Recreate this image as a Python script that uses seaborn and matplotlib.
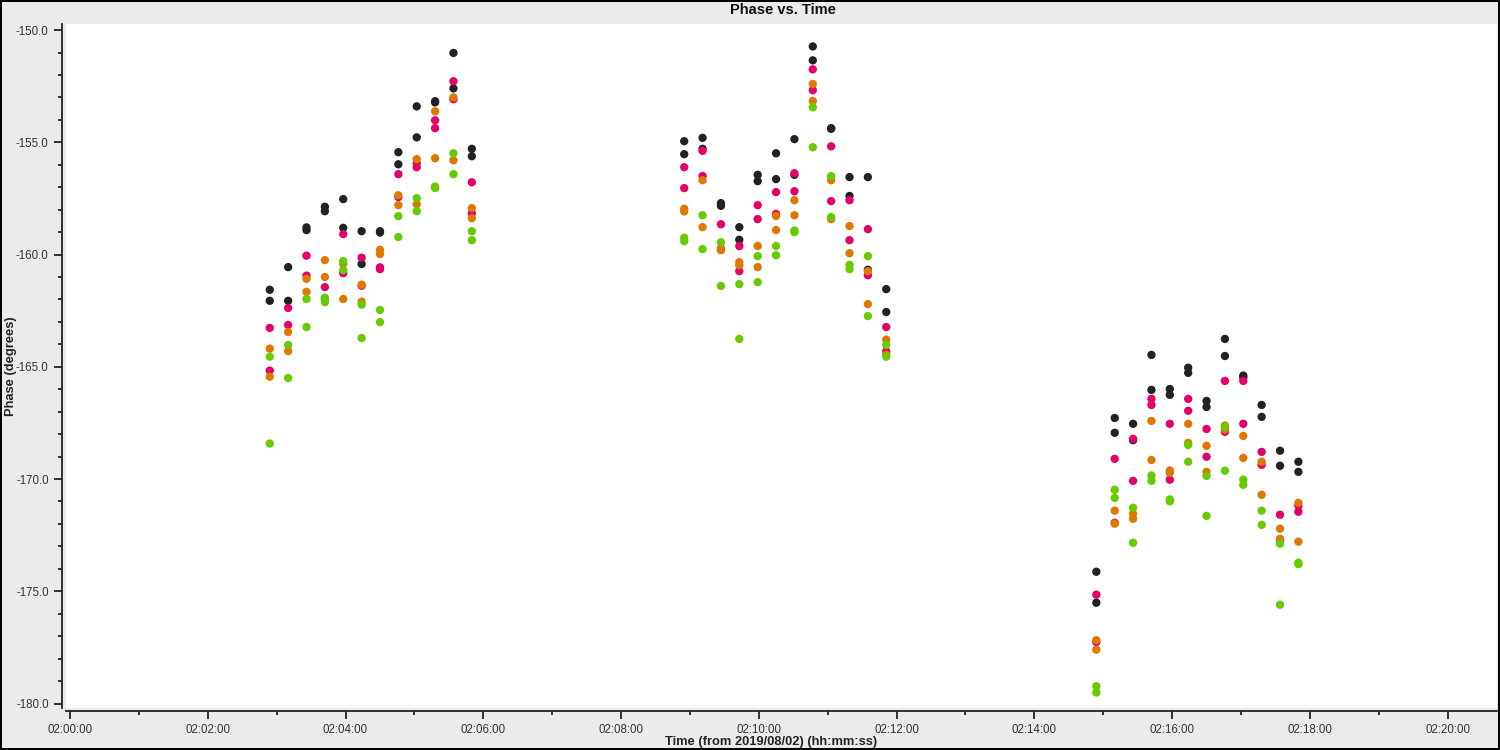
import pandas as pd
import numpy as np
import matplotlib
matplotlib.use('Agg')
import matplotlib.pyplot as plt
from matplotlib.ticker import MultipleLocator, FuncFormatter
import seaborn as sns

# scan times (hh:mm:ss on 2019/08/02)
times = [
    '02:02:54', '02:03:10', '02:03:26', '02:03:42', '02:03:58', '02:04:14',
    '02:04:30', '02:04:46', '02:05:02', '02:05:18', '02:05:34', '02:05:50',
    '02:08:55', '02:09:11', '02:09:27', '02:09:43', '02:09:59', '02:10:15',
    '02:10:31', '02:10:47', '02:11:03', '02:11:19', '02:11:35', '02:11:51',
    '02:14:54', '02:15:10', '02:15:26', '02:15:42', '02:15:58', '02:16:14',
    '02:16:30', '02:16:46', '02:17:02', '02:17:18', '02:17:34', '02:17:50',
]

# two phase values per scan for every series
phase_black = [
    [-161.57, -162.06], [-160.56, -162.06], [-158.79, -158.91], [-157.87, -158.07],
    [-157.53, -158.81], [-158.96, -160.42], [-158.96, -159.02], [-155.44, -155.98],
    [-153.40, -154.78], [-153.17, -153.22], [-151.02, -152.60], [-155.29, -155.62],
    [-154.95, -155.53], [-154.80, -155.29], [-157.71, -157.83], [-158.78, -159.34],
    [-156.45, -156.73], [-155.49, -156.64], [-154.86, -156.45], [-150.73, -151.35],
    [-154.37, -154.40], [-156.55, -157.39], [-156.55, -160.68], [-161.54, -162.56],
    [-174.13, -175.51], [-167.28, -167.94], [-167.54, -168.27], [-164.47, -166.03],
    [-165.99, -166.25], [-165.04, -165.27], [-166.52, -166.79], [-163.76, -164.52],
    [-165.39, -165.47], [-166.70, -167.23], [-168.74, -169.41], [-169.23, -169.68],
]
phase_magenta = [
    [-163.27, -165.17], [-162.38, -163.14], [-160.05, -160.94], [-161.45, -161.98],
    [-159.09, -160.83], [-160.14, -161.39], [-160.57, -160.65], [-156.42, -157.44],
    [-155.93, -156.11], [-154.02, -154.37], [-152.28, -153.08], [-156.78, -158.16],
    [-156.11, -157.04], [-155.38, -156.50], [-158.65, -159.79], [-159.62, -160.74],
    [-157.80, -158.42], [-157.22, -158.19], [-156.38, -157.18], [-151.75, -152.68],
    [-155.18, -157.62], [-157.58, -159.36], [-158.87, -160.92], [-163.23, -164.31],
    [-175.15, -177.26], [-169.10, -171.95], [-168.21, -170.08], [-166.43, -166.70],
    [-167.54, -170.03], [-166.43, -166.96], [-167.77, -169.01], [-165.63, -167.90],
    [-165.63, -167.54], [-168.79, -169.37], [-171.59, -172.75], [-171.19, -171.46],
]
phase_orange = [
    [-164.19, -165.44], [-163.45, -164.30], [-161.08, -161.66], [-160.25, -161.00],
    [-160.41, -161.98], [-161.34, -162.10], [-159.79, -159.98], [-157.36, -157.80],
    [-155.75, -157.76], [-153.62, -155.71], [-153.00, -155.80], [-157.93, -158.38],
    [-157.96, -158.08], [-156.69, -158.78], [-159.71, -159.80], [-160.34, -160.48],
    [-159.62, -160.56], [-158.28, -158.91], [-157.58, -158.25], [-152.40, -153.16],
    [-156.69, -158.42], [-158.73, -159.94], [-160.74, -162.21], [-163.79, -164.46],
    [-177.18, -177.60], [-171.41, -171.99], [-171.55, -171.77], [-167.41, -169.15],
    [-169.62, -169.72], [-167.54, -168.39], [-168.52, -169.68], [-167.62, -167.80],
    [-168.08, -169.06], [-169.23, -170.70], [-172.21, -172.66], [-171.06, -172.79],
]
phase_green = [
    [-164.55, -168.42], [-164.03, -165.50], [-161.98, -163.23], [-161.92, -162.12],
    [-160.29, -160.69], [-162.23, -163.72], [-162.47, -163.01], [-158.29, -159.22],
    [-157.49, -158.07], [-156.97, -157.04], [-155.49, -156.42], [-158.96, -159.36],
    [-159.25, -159.40], [-158.25, -159.76], [-159.45, -161.40], [-161.32, -163.76],
    [-160.07, -161.23], [-159.62, -160.03], [-158.93, -159.00], [-153.44, -155.22],
    [-156.51, -158.33], [-160.46, -160.65], [-160.07, -162.74], [-164.03, -164.55],
    [-179.23, -179.51], [-170.48, -170.84], [-171.28, -172.84], [-169.84, -170.08],
    [-170.91, -170.99], [-168.48, -169.23], [-169.86, -171.64], [-167.68, -169.63],
    [-170.03, -170.26], [-171.41, -172.04], [-172.88, -175.60], [-173.73, -173.79],
]

series = {'black': phase_black, 'magenta': phase_magenta,
          'orange': phase_orange, 'green': phase_green}
palette = {'black': '#222222', 'magenta': '#e3006b',
           'orange': '#e07800', 'green': '#66cc00'}

secs = pd.to_timedelta(times).total_seconds() - 2 * 3600

rows = []
for name, vals in series.items():
    for t, pair in zip(secs, vals):
        for v in pair:
            rows.append({'time': t, 'phase': v, 'series': name})
df = pd.DataFrame(rows)

sns.set_style('white')
plt.rcParams['font.family'] = ['Liberation Sans', 'DejaVu Sans']

fig = plt.figure(figsize=(15, 7.5), dpi=100, facecolor='#ebebeb',
                 edgecolor='black', linewidth=1.5)
ax = fig.add_axes([0.044, 0.056, 0.954, 0.912])
ax.set_facecolor('white')

sns.scatterplot(data=df, x='time', y='phase', hue='series', palette=palette,
                s=36, linewidth=0, legend=False, ax=ax)

ax.set_xlim(-3.5, 1243)
ax.set_ylim(-180.2, -149.73)

ax.xaxis.set_major_locator(MultipleLocator(120))
ax.xaxis.set_minor_locator(MultipleLocator(60))
ax.yaxis.set_major_locator(MultipleLocator(5))
ax.yaxis.set_minor_locator(MultipleLocator(1))


def hms(x, pos):
    s = int(round(x)) + 2 * 3600
    return f'{s // 3600:02d}:{(s % 3600) // 60:02d}:{s % 60:02d}'


ax.xaxis.set_major_formatter(FuncFormatter(hms))
ax.yaxis.set_major_formatter(FuncFormatter(lambda v, p: f'{v:.1f}'))

for side in ['top', 'right']:
    ax.spines[side].set_visible(False)
ax.spines['left'].set_position(('outward', 3))
ax.spines['bottom'].set_position(('outward', 2))
for side in ['left', 'bottom']:
    ax.spines[side].set_color('#222222')
    ax.spines[side].set_linewidth(1.3)

ax.tick_params(which='major', length=5.5, width=1.3, color='#222222',
               labelsize=8.3, labelcolor='#333333', pad=4)
ax.tick_params(which='minor', length=3.2, width=1.3, color='#222222')
ax.tick_params(axis='x', which='both', bottom=True)
ax.tick_params(axis='y', which='both', left=True)

ax.set_xlabel('Time (from 2019/08/02) (hh:mm:ss)', fontsize=9.3,
              fontweight='bold', color='#222222')
ax.set_ylabel('Phase (degrees)', fontsize=9.3, fontweight='bold',
              color='#222222')
ax.xaxis.set_label_coords(0.514, 0.0107, transform=fig.transFigure)
ax.yaxis.set_label_coords(0.0075, 0.512, transform=fig.transFigure)
ax.xaxis.label.set_va('center')
ax.yaxis.label.set_va('center')
fig.text(0.522, 0.987, 'Phase vs. Time', ha='center', va='center',
         fontsize=10.5, fontweight='bold', color='#111111')

fig.savefig('out.png', dpi=100, facecolor=fig.get_facecolor(),
            edgecolor=fig.get_edgecolor())
